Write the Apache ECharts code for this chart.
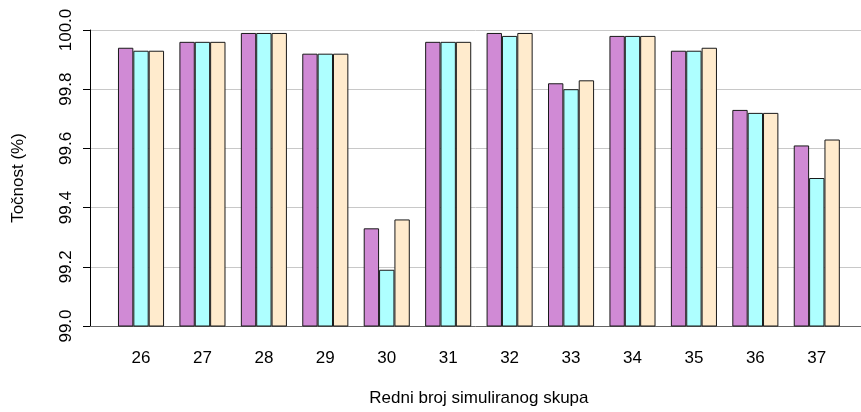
<!DOCTYPE html>
<html><head><meta charset="utf-8">
<script src="https://cdn.jsdelivr.net/npm/echarts@6/dist/echarts.min.js"></script>
<style>html,body{margin:0;padding:0;background:#fff}#c{width:861px;height:412px}</style>
</head><body><div id="c"></div>
<script>
var categories = ['26','27','28','29','30','31','32','33','34','35','36','37'];
var seriesA = [99.94,99.96,99.99,99.92,99.33,99.96,99.99,99.82,99.98,99.93,99.73,99.61];
var seriesB = [99.93,99.96,99.99,99.92,99.19,99.96,99.98,99.80,99.98,99.93,99.72,99.50];
var seriesC = [99.93,99.96,99.99,99.92,99.36,99.96,99.99,99.83,99.98,99.94,99.72,99.63];
var yTicks = [99.0,99.2,99.4,99.6,99.8,100.0];
var colors = ['#D08AD5','#AEFFFF','#FFEBCD'];
var font = 'Liberation Sans, Arial, sans-serif';
var fs = 17;
var chart = echarts.init(document.getElementById('c'));
function mk(name, data, i){
  return {name:name,type:'bar',xAxisIndex:1,yAxisIndex:1,data:data,barGap:'0%',barCategoryGap:'25%',
    itemStyle:{color:colors[i],borderColor:'#1a1a1a',borderWidth:1},animation:false};
}
chart.setOption({
  animation:false,
  grid:[{left:90,right:0,top:30,bottom:86},{left:110.3,right:13.5,top:30,bottom:86}],
  xAxis:[
    {gridIndex:0,type:'value',min:0,max:1,axisLine:{show:true,lineStyle:{color:'#666',width:1}},axisTick:{show:false},axisLabel:{show:false},splitLine:{show:false}},
    {gridIndex:1,type:'category',data:categories,axisLine:{show:false},axisTick:{show:false},
      axisLabel:{margin:23.5,fontSize:fs,color:'#000',fontFamily:font},
      name:'Redni broj simuliranog skupa',nameLocation:'middle',nameGap:63.5,
      nameTextStyle:{fontSize:fs,color:'#000',fontFamily:font}}
  ],
  yAxis:[
    {gridIndex:0,type:'value',min:yTicks[0],max:yTicks[yTicks.length-1],interval:0.2,
      axisLine:{show:true,lineStyle:{color:'#000',width:1}},
      axisTick:{show:true,length:7,lineStyle:{color:'#000'}},
      axisLabel:{rotate:90,margin:15,fontSize:fs,color:'#000',fontFamily:font,formatter:function(v){return v.toFixed(1);}},
      splitLine:{show:true,lineStyle:{color:'#c8c8c8',width:1}},
      name:'Točnost (%)',nameLocation:'middle',nameGap:63.5,nameRotate:90,
      nameTextStyle:{fontSize:fs,color:'#000',fontFamily:font}},
    {gridIndex:1,type:'value',min:99.0,max:100.0,show:false,splitLine:{show:false}}
  ],
  series:[mk('A',seriesA,0),mk('B',seriesB,1),mk('C',seriesC,2)]
});
</script></body></html>
